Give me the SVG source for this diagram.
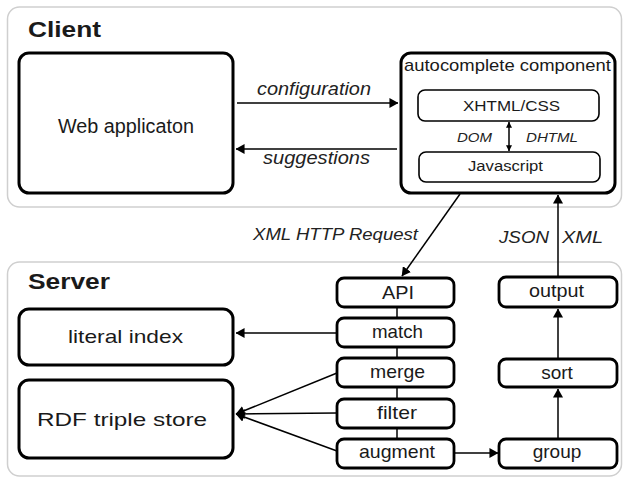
<svg xmlns="http://www.w3.org/2000/svg" width="624" height="479" viewBox="0 0 624 479">
<defs>
<marker id="ah" viewBox="0 0 10 10" refX="9.5" refY="5" markerWidth="9" markerHeight="10" markerUnits="userSpaceOnUse" orient="auto-start-reverse" preserveAspectRatio="none">
<path d="M0,0 L10,5 L0,10 z" fill="#000"/>
</marker>
<marker id="ahs" viewBox="0 0 10 10" refX="9.5" refY="5" markerWidth="6" markerHeight="6" markerUnits="userSpaceOnUse" orient="auto-start-reverse" preserveAspectRatio="none">
<path d="M0,0 L10,5 L0,10 z" fill="#000"/>
</marker>
<style>
text{font-family:"Liberation Sans",Arial,sans-serif;fill:#1a1a1a}
.panel{fill:#fff;stroke:#cfcfcf;stroke-width:1.5}
.box{fill:#fff;stroke:#000;stroke-width:3}
.ibox{fill:#fff;stroke:#000;stroke-width:1.6}
.sbox{fill:#fff;stroke:#000;stroke-width:2.8}
.title{font-weight:bold;font-size:22px}
.it{font-style:italic;fill:#222}
.c{text-anchor:middle}
.s{font-size:19px}
.ln{stroke:#000;stroke-width:1.5;fill:none}
</style>
</defs>
<g id="client-panel">
<rect class="panel" x="7.5" y="7" width="614" height="200" rx="12"/>
<text class="title" x="28" y="37" textLength="73" lengthAdjust="spacingAndGlyphs">Client</text>
</g>
<g id="server-panel">
<rect class="panel" x="7.5" y="262" width="614" height="214" rx="12"/>
<text class="title" x="28" y="289" textLength="82" lengthAdjust="spacingAndGlyphs">Server</text>
</g>
<g id="web-app">
<rect class="box" x="19" y="53" width="214" height="140" rx="10"/>
<text x="58" y="133" font-size="19.5" textLength="136" lengthAdjust="spacingAndGlyphs">Web applicaton</text>
</g>
<g id="autocomplete">
<rect class="box" x="401" y="53" width="214" height="140" rx="10"/>
<text x="404" y="71" font-size="17" textLength="207" lengthAdjust="spacingAndGlyphs">autocomplete component</text>
</g>
<g id="xhtml">
<rect class="ibox" x="418" y="90" width="181" height="31" rx="7"/>
<text x="463" y="111" font-size="15.5" textLength="97" lengthAdjust="spacingAndGlyphs">XHTML/CSS</text>
</g>
<g id="javascript">
<rect class="ibox" x="419" y="152" width="181" height="30" rx="7"/>
<text x="468" y="171" font-size="15.5" textLength="75" lengthAdjust="spacingAndGlyphs">Javascript</text>
</g>
<g id="literal-index">
<rect class="box" x="19" y="309" width="214" height="56" rx="10"/>
<text x="68" y="343" font-size="19" textLength="115" lengthAdjust="spacingAndGlyphs">literal index</text>
</g>
<g id="rdf">
<rect class="box" x="19" y="380" width="214" height="78" rx="10"/>
<text x="37" y="426" font-size="19" textLength="170" lengthAdjust="spacingAndGlyphs">RDF triple store</text>
</g>
<g id="api"><rect class="sbox" x="337" y="278" width="117" height="29" rx="7"/><text class="s" x="382" y="299" textLength="32" lengthAdjust="spacingAndGlyphs">API</text></g>
<g id="match"><rect class="sbox" x="337" y="318" width="117" height="29" rx="7"/><text class="s" x="372" y="338" textLength="51" lengthAdjust="spacingAndGlyphs">match</text></g>
<g id="merge"><rect class="sbox" x="337" y="358" width="117" height="29" rx="7"/><text class="s" x="370" y="378" textLength="55" lengthAdjust="spacingAndGlyphs">merge</text></g>
<g id="filter"><rect class="sbox" x="337" y="399" width="117" height="29" rx="7"/><text class="s" x="377" y="419" textLength="40" lengthAdjust="spacingAndGlyphs">filter</text></g>
<g id="augment"><rect class="sbox" x="337" y="439" width="117" height="29" rx="7"/><text class="s" x="359" y="458" textLength="76" lengthAdjust="spacingAndGlyphs">augment</text></g>
<g id="output"><rect class="sbox" x="499" y="277" width="118" height="30" rx="7"/><text class="s" x="529" y="297" textLength="55" lengthAdjust="spacingAndGlyphs">output</text></g>
<g id="sort"><rect class="sbox" x="499" y="359" width="118" height="28" rx="7"/><text class="c s" x="557" y="379">sort</text></g>
<g id="group"><rect class="sbox" x="499" y="439" width="118" height="29" rx="7"/><text class="c s" x="557" y="458">group</text></g>
<g id="connectors">
<line class="ln" x1="237" y1="103" x2="398" y2="103" marker-end="url(#ah)"/>
<text class="it" x="257" y="95" font-size="19" textLength="114" lengthAdjust="spacingAndGlyphs">configuration</text>
<line class="ln" x1="397" y1="149" x2="236" y2="149" marker-end="url(#ah)"/>
<text class="it" x="263" y="164" font-size="19" textLength="107" lengthAdjust="spacingAndGlyphs">suggestions</text>
<line class="ln" x1="509" y1="122" x2="509" y2="151" marker-start="url(#ahs)" marker-end="url(#ahs)"/>
<text class="it" x="457" y="142" font-size="13.5" textLength="35" lengthAdjust="spacingAndGlyphs">DOM</text>
<text class="it" x="526" y="142" font-size="13.5" textLength="52" lengthAdjust="spacingAndGlyphs">DHTML</text>
<line class="ln" x1="460" y1="194" x2="402" y2="276" marker-end="url(#ah)"/>
<text class="it" x="253" y="240" font-size="16" textLength="165" lengthAdjust="spacingAndGlyphs">XML HTTP Request</text>
<line class="ln" x1="558" y1="277" x2="558" y2="195" marker-end="url(#ah)"/>
<text class="it" x="499" y="243" font-size="17" textLength="50" lengthAdjust="spacingAndGlyphs">JSON</text>
<text class="it" x="562" y="243" font-size="17" textLength="41" lengthAdjust="spacingAndGlyphs">XML</text>
<line class="ln" x1="397" y1="307" x2="397" y2="318"/>
<line class="ln" x1="397" y1="347" x2="397" y2="358"/>
<line class="ln" x1="397" y1="387" x2="397" y2="399"/>
<line class="ln" x1="397" y1="428" x2="397" y2="439"/>
<line class="ln" x1="337" y1="333" x2="236" y2="333" marker-end="url(#ah)"/>
<line class="ln" x1="337" y1="373" x2="236" y2="414" marker-end="url(#ah)"/>
<line class="ln" x1="337" y1="413" x2="236" y2="414" marker-end="url(#ah)"/>
<line class="ln" x1="337" y1="451" x2="236" y2="414" marker-end="url(#ah)"/>
<line class="ln" x1="455" y1="453" x2="498" y2="453" marker-end="url(#ah)"/>
<line class="ln" x1="558" y1="438" x2="558" y2="389" marker-end="url(#ah)"/>
<line class="ln" x1="558" y1="358" x2="558" y2="309" marker-end="url(#ah)"/>
</g>
</svg>
